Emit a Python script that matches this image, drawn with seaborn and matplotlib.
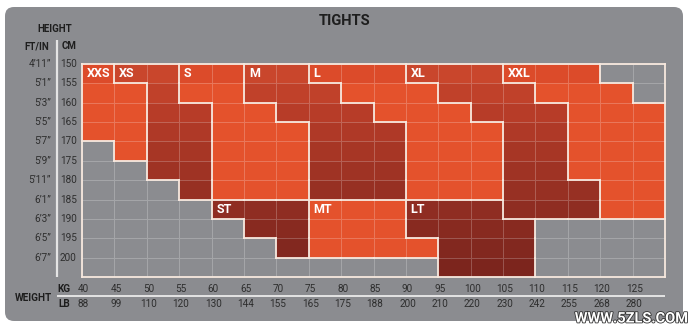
import matplotlib
matplotlib.use("Agg")
import matplotlib.pyplot as plt
import seaborn as sns
import numpy as np
from matplotlib.colors import ListedColormap
from matplotlib.patches import FancyBboxPatch
from matplotlib.collections import LineCollection
from matplotlib import transforms
import matplotlib.patheffects as pe

# ---------------- data ----------------
kg = [40, 45, 50, 55, 60, 65, 70, 75, 80, 85, 90, 95, 100, 105, 110, 115, 120, 125]
lb = [88, 99, 110, 120, 130, 144, 155, 165, 175, 188, 200, 210, 220, 230, 242, 255, 268, 280]
cm = [150, 155, 160, 165, 170, 175, 180, 185, 190, 195, 200]
ft_in = ["4’11”", "5’1”", "5’3”", "5’5”", "5’7”", "5’9”", "5’11”", "6’1”", "6’3”", "6’5”", "6’7”"]

size_names = ["XXS", "XS", "S", "M", "L", "XL", "XXL", "ST", "MT", "LT"]
size_codes = ["a", "b", "c", "d", "e", "f", "g", "h", "i", "j"]
dark_sizes = ["XS", "M", "XL", "ST", "LT"]

# one string per height row, one character per weight column ('.' = no size)
size_map = [
    "abbccddeeefffggg..",
    "aabccdddeeefffggg.",
    "aabbccdddeeefffggg",
    "aabbcccdddeeeffggg",
    ".abbcccdddeeeffggg",
    "..bbcccdddeeeffggg",
    "...bcccdddeeefffgg",
    "....hhhiiijjjfffgg",
    ".....hhiiijjjj....",
    "......hiiiijjj....",
    "...........jjj....",
]

# ---------------- style ----------------
sns.set_style("white")
plt.rcParams["font.family"] = ["Roboto", "DejaVu Sans"]

W, H = 690, 328
fig = plt.figure(figsize=(W / 100, H / 100), dpi=100)
fig.patch.set_facecolor("white")

bg = fig.add_axes([0, 0, 1, 1], zorder=0)
bg.set_xlim(0, W)
bg.set_ylim(H, 0)
bg.axis("off")

panel_grey = "#8B8C90"
bg.add_patch(FancyBboxPatch((5, 7), 678, 314, boxstyle="round,pad=0,rounding_size=9",
                            fc=panel_grey, ec="none"))

# grid axes
gx0, gx1, gy0, gy1 = 82, 665, 64, 277
ax = fig.add_axes([gx0 / W, (H - gy1) / H, (gx1 - gx0) / W, (gy1 - gy0) / H], zorder=2)

code_to_name = dict(zip(size_codes, size_names))
nrows, ncols = len(size_map), len(size_map[0])
idx = np.zeros((nrows, ncols))
for r, row in enumerate(size_map):
    for c, ch in enumerate(row):
        if ch == ".":
            idx[r, c] = 0
        elif code_to_name[ch] in dark_sizes:
            idx[r, c] = 3 + r
        else:
            idx[r, c] = 1 if r == 0 else 2

dark_levels = ["#C9462C", "#C0412A", "#B73C28", "#AF3927", "#A73625", "#9F3324",
               "#973023", "#8F2D22", "#882A20", "#82281F", "#7C251D"]
cmap = ListedColormap([panel_grey, "#DC4B2A", "#E4522C"] + dark_levels)

sns.heatmap(idx, ax=ax, cmap=cmap, vmin=-0.5, vmax=len(cmap.colors) - 0.5, cbar=False,
            linewidths=0.6, linecolor=(1, 1, 1, 0.22), xticklabels=False, yticklabels=False)
ax.set_xlim(0, ncols)
ax.set_ylim(nrows, 0)
ax.set_xticks([])
ax.set_yticks([])
for s in ax.spines.values():
    s.set_visible(False)

# region borders
segs = []
for r in range(nrows):
    for c in range(ncols):
        ch = size_map[r][c]
        if c + 1 < ncols and size_map[r][c + 1] != ch:
            segs.append([(c + 1, r), (c + 1, r + 1)])
        if r + 1 < nrows and size_map[r + 1][c] != ch:
            segs.append([(c, r + 1), (c + 1, r + 1)])
segs += [[(0, 0), (ncols, 0)], [(0, nrows), (ncols, nrows)],
         [(0, 0), (0, nrows)], [(ncols, 0), (ncols, nrows)]]
ax.add_collection(LineCollection(segs, colors="#F7E8DE", linewidths=1.3,
                                 capstyle="projecting", clip_on=False, zorder=5))

# size labels
for ch, name in zip(size_codes, size_names):
    cells = [(r, c) for r, row in enumerate(size_map) for c, x in enumerate(row) if x == ch]
    r0 = min(r for r, c in cells)
    c0 = min(c for r, c in cells if r == r0)
    ax.text(c0 + 0.15, r0 + 0.5, name, color="white", fontweight="bold", fontsize=9,
            ha="left", va="center", zorder=6)

# ---------------- text & axes labels ----------------
dark_txt = "#1E1E1E"
num_txt = "#2E2E2E"
lab_fs = 7.2
bg.text(345, 21, "TIGHTS", ha="center", va="center", fontsize=10.5, fontweight="bold", color=dark_txt)
bg.text(55, 29, "HEIGHT", ha="center", va="center", fontsize=7, fontweight="bold", color=dark_txt)
bg.text(37, 46, "FT/IN", ha="center", va="center", fontsize=7, fontweight="bold", color=dark_txt)
bg.text(69, 46, "CM", ha="center", va="center", fontsize=7, fontweight="bold", color=dark_txt)
bg.plot([57, 57], [40, 277], color="#E4E4E4", lw=1.6, solid_capstyle="butt")

ytr = transforms.blended_transform_factory(bg.transData, ax.transData)
for r in range(nrows):
    bg.text(51, r, ft_in[r], transform=ytr, ha="right", va="center", fontsize=lab_fs, color=num_txt)
    bg.text(60, r, str(cm[r]), transform=ytr, ha="left", va="center", fontsize=lab_fs, color=num_txt)

bg.text(33, 298, "WEIGHT", ha="center", va="center", fontsize=7.2, fontweight="bold", color=dark_txt)
bg.text(64, 289, "KG", ha="center", va="center", fontsize=7.2, fontweight="bold", color=dark_txt)
bg.text(64, 304, "LB", ha="center", va="center", fontsize=7.2, fontweight="bold", color=dark_txt)
bg.plot([57, 665], [296, 296], color="#E4E4E4", lw=1.4, solid_capstyle="butt")

xtr = transforms.blended_transform_factory(ax.transData, bg.transData)
for c in range(ncols):
    bg.text(c + 0.05, 289, str(kg[c]), transform=xtr, ha="center", va="center", fontsize=lab_fs, color=num_txt)
    bg.text(c + 0.05, 304, str(lb[c]), transform=xtr, ha="center", va="center", fontsize=lab_fs, color=num_txt)

bg.text(688, 318.5, "WWW.5ZLS.COM", ha="right", va="center", fontsize=10.5, fontweight="bold",
        color="white", zorder=10,
        path_effects=[pe.withStroke(linewidth=1.2, foreground="#333333")])

fig.savefig("out.png", dpi=100, facecolor="white")
